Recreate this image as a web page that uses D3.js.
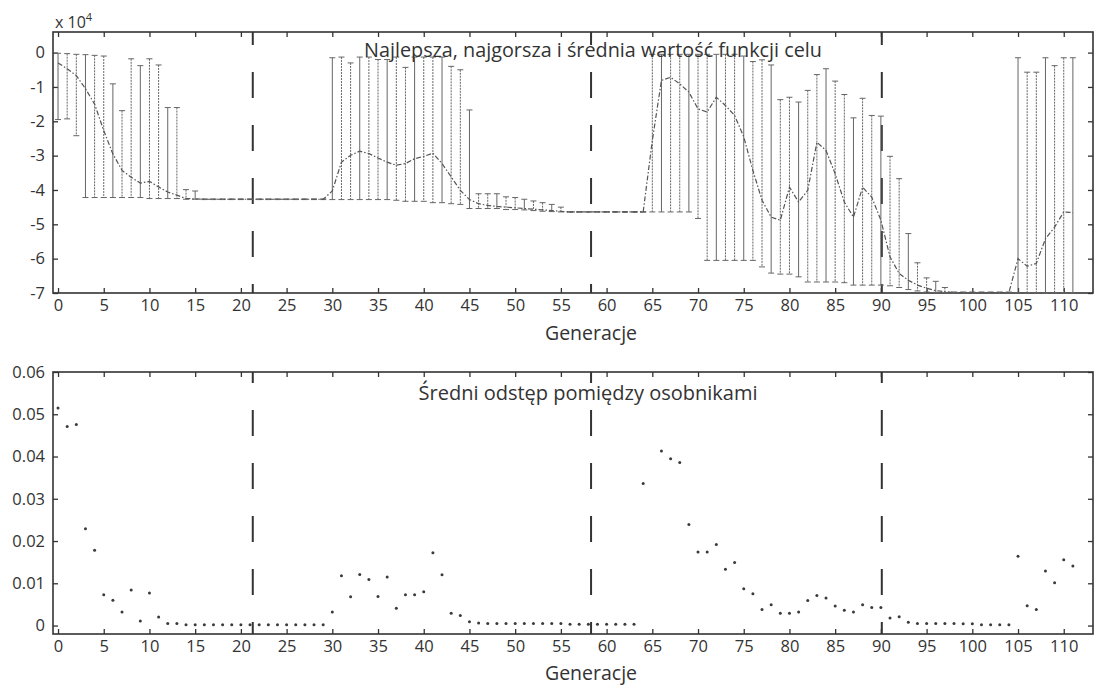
<!DOCTYPE html>
<html>
<head>
<meta charset="utf-8">
<script src="https://cdn.jsdelivr.net/npm/d3@7"></script>
<style>
  body { margin: 0; background: #fff; }
  svg text { font-family: "Open Sans", sans-serif; fill: #333; }
</style>
</head>
<body>
<svg id="chart" width="1094" height="687"></svg>
<script>
// funkcja celu (x 10^4) w kolejnych generacjach 0..111
const meanFit = [
  -0.30, -0.47, -0.67, -1.05, -1.50, -2.27, -2.95, -3.43, -3.63, -3.80,
  -3.75, -3.91, -4.06, -4.15, -4.25, -4.26, -4.27, -4.27, -4.27, -4.27,
  -4.27, -4.27, -4.27, -4.27, -4.27, -4.27, -4.27, -4.27, -4.27, -4.27,
  -4.03, -3.19, -2.99, -2.87, -2.94, -3.07, -3.19, -3.28, -3.23, -3.09,
  -3.02, -2.93, -3.23, -3.62, -4.01, -4.28, -4.40, -4.45, -4.48, -4.50,
  -4.52, -4.54, -4.56, -4.58, -4.60, -4.62, -4.64, -4.64, -4.64, -4.64,
  -4.64, -4.64, -4.64, -4.64, -4.64, -2.56, -0.81, -0.72, -0.91, -1.15,
  -1.64, -1.73, -1.30, -1.54, -1.83, -2.45, -3.43, -4.30, -4.79, -4.88,
  -3.92, -4.35, -4.01, -2.61, -2.85, -3.53, -4.35, -4.79, -3.92, -4.21,
  -4.88, -5.95, -6.43, -6.63, -6.77, -6.86, -6.93, -6.96, -6.99, -6.99,
  -6.99, -6.99, -6.99, -6.99, -6.99, -6.00, -6.22, -6.14, -5.42, -5.08,
  -4.64, -4.66
];
// najgorsza wartość (górny koniec słupka)
const worstFit = [
  -0.02, -0.03, -0.05, -0.06, -0.08, -0.10, -0.91, -1.69, -0.18, -0.38,
  -0.18, -0.36, -1.60, -1.60, -3.99, -4.03, -4.26, -4.26, -4.26, -4.26,
  -4.26, -4.26, -4.26, -4.26, -4.26, -4.26, -4.26, -4.26, -4.26, -4.26,
  -0.15, -0.13, -0.30, -0.13, -0.13, -0.20, -0.20, -0.13, -0.43, -0.13,
  -0.13, -0.13, -0.13, -0.40, -0.50, -1.67, -4.11, -4.11, -4.11, -4.20,
  -4.22, -4.27, -4.32, -4.37, -4.42, -4.50, -4.63, -4.63, -4.63, -4.63,
  -4.63, -4.63, -4.63, -4.63, -4.63, -0.05, -0.05, -0.05, -0.05, -0.05,
  -0.05, -0.05, -0.05, -0.05, -0.05, -0.10, -0.26, -0.21, -0.36, -1.37,
  -1.30, -1.44, -1.10, -0.64, -0.47, -0.83, -1.22, -1.90, -1.33, -1.83,
  -1.85, -3.02, -3.67, -5.27, -6.12, -6.56, -6.66, -6.84, -6.97, -6.97,
  -6.97, -6.97, -6.97, -6.97, -6.97, -0.15, -0.57, -0.57, -0.15, -0.38,
  -0.15, -0.15
];
// najlepsza wartość (dolny koniec słupka)
const bestFit = [
  -1.95, -1.93, -2.42, -4.22, -4.22, -4.22, -4.22, -4.22, -4.22, -4.22,
  -4.25, -4.25, -4.25, -4.25, -4.27, -4.27, -4.28, -4.28, -4.28, -4.28,
  -4.28, -4.28, -4.28, -4.28, -4.28, -4.28, -4.28, -4.28, -4.28, -4.28,
  -4.28, -4.28, -4.28, -4.28, -4.28, -4.28, -4.28, -4.30, -4.33, -4.33,
  -4.33, -4.37, -4.37, -4.40, -4.42, -4.54, -4.54, -4.54, -4.54, -4.57,
  -4.57, -4.58, -4.60, -4.62, -4.63, -4.64, -4.65, -4.65, -4.65, -4.65,
  -4.65, -4.65, -4.65, -4.65, -4.65, -4.64, -4.64, -4.64, -4.64, -4.64,
  -4.83, -6.05, -6.05, -6.05, -6.05, -6.05, -6.05, -6.24, -6.42, -6.45,
  -6.45, -6.53, -6.68, -6.68, -6.68, -6.68, -6.70, -6.77, -6.77, -6.77,
  -6.77, -6.79, -6.84, -6.90, -6.94, -6.97, -6.98, -6.99, -7.00, -7.00,
  -7.00, -7.00, -7.00, -7.00, -7.00, -7.00, -7.00, -7.00, -7.00, -7.00,
  -7.00, -7.00
];
// średni odstęp pomiędzy osobnikami (null = brak punktu)
const spread = [
  0.0515, 0.0471, 0.0476, 0.0229, 0.0178, 0.0073, 0.0060, 0.0032, 0.0084, 0.0011,
  0.0077, 0.0020, 0.0005, 0.0005, 0.0002, 0.0002, 0.0002, 0.0002, 0.0002, 0.0002,
  0.0002, 0.0002, 0.0002, 0.0002, 0.0002, 0.0002, 0.0002, 0.0002, 0.0002, 0.0002,
  0.0032, 0.0118, 0.0068, 0.0121, 0.0109, 0.0069, 0.0115, 0.0041, 0.0073, 0.0073,
  0.0080, 0.0172, 0.0120, 0.0029, 0.0024, 0.0009, 0.0006, 0.0005, 0.0005, 0.0005,
  0.0005, 0.0005, 0.0005, 0.0005, 0.0005, 0.0005, 0.0003, 0.0003, 0.0003, 0.0003,
  0.0003, 0.0003, 0.0003, 0.0003, 0.0336, null,   0.0413, 0.0395, 0.0386, 0.0239,
  0.0174, 0.0174, 0.0192, 0.0133, 0.0149, 0.0087, 0.0075, 0.0038, 0.0049, 0.0029,
  0.0029, 0.0032, 0.0059, 0.0071, 0.0065, 0.0046, 0.0036, 0.0032, 0.0049, 0.0043,
  0.0043, 0.0018, 0.0021, 0.0008, 0.0005, 0.0005, 0.0005, 0.0005, 0.0005, 0.0004,
  0.0004, 0.0002, 0.0002, 0.0002, 0.0002, 0.0164, 0.0047, 0.0038, 0.0129, 0.0101,
  0.0156, 0.0141
];
const changeGens = [21.3, 58.3, 90.1];
const genTicks = [0, 5, 10, 15, 20, 25, 30, 35, 40, 45, 50, 55, 60, 65, 70, 75, 80, 85, 90, 95, 100, 105, 110];
const fitTicks = [0, -1, -2, -3, -4, -5, -6, -7];
const spreadTicks = [0, 0.01, 0.02, 0.03, 0.04, 0.05, 0.06];

const gens = meanFit.map((d, i) => i);
const fitData = gens.map(g => ({ gen: g, mean: meanFit[g], worst: worstFit[g], best: bestFit[g] }));
const spreadData = gens.map(g => ({ gen: g, value: spread[g] })).filter(d => d.value !== null);

const svg = d3.select("#chart");
const left = 53, right = 1093;
const panelA = { y0: 32, y1: 293, dashOffset: 13 };
const panelB = { y0: 372, y1: 634, dashOffset: 15 };

const x = d3.scaleLinear().domain([-0.55, 113.2]).range([left, right]);
const yFit = d3.scaleLinear().domain([-7, 0.6]).range([panelA.y1, panelA.y0]);
const ySpread = d3.scaleLinear().domain([-0.002, 0.06]).range([panelB.y1, panelB.y0]);

function drawFrame(panel, y, yTicks, yFmt) {
  const g = svg.append("g");

  const styleAxis = sel => {
    sel.select(".domain").remove();
    sel.selectAll(".tick line").attr("stroke", "#333").attr("stroke-width", 1.3);
    sel.selectAll(".tick text").style("font-size", "16.5px").attr("fill", "#333");
  };

  g.append("g")
    .attr("transform", `translate(0,${panel.y1})`)
    .call(d3.axisBottom(x).tickValues(genTicks).tickSizeInner(-5).tickSizeOuter(0).tickPadding(6))
    .call(styleAxis);
  g.append("g")
    .attr("transform", `translate(0,${panel.y0})`)
    .call(d3.axisTop(x).tickValues(genTicks).tickSizeInner(-5).tickSizeOuter(0).tickFormat(""))
    .call(styleAxis);
  g.append("g")
    .attr("transform", `translate(${left},0)`)
    .call(d3.axisLeft(y).tickValues(yTicks).tickSizeInner(-5).tickSizeOuter(0).tickPadding(8).tickFormat(yFmt))
    .call(styleAxis);
  g.append("g")
    .attr("transform", `translate(${right},0)`)
    .call(d3.axisRight(y).tickValues(yTicks).tickSizeInner(-5).tickSizeOuter(0).tickFormat(""))
    .call(styleAxis);

  g.append("rect")
    .attr("x", left)
    .attr("y", panel.y0)
    .attr("width", right - left)
    .attr("height", panel.y1 - panel.y0)
    .attr("fill", "none")
    .attr("stroke", "#333")
    .attr("stroke-width", 1.6);

  // zmiany środowiska - pionowe linie przerywane
  g.selectAll(".change")
    .data(changeGens)
    .join("line")
    .attr("class", "change")
    .attr("x1", d => x(d))
    .attr("x2", d => x(d))
    .attr("y1", panel.y0)
    .attr("y2", panel.y1)
    .attr("stroke", "#333")
    .attr("stroke-width", 2)
    .attr("stroke-dasharray", "26,27")
    .attr("stroke-dashoffset", panel.dashOffset);
}

// --- górny wykres: najlepsza, najgorsza i średnia ---
drawFrame(panelA, yFit, fitTicks, d => String(d));

const bars = svg.append("g").attr("stroke", "#666").attr("stroke-width", 1);
const bar = bars.selectAll(".bar")
  .data(fitData)
  .join("g")
  .attr("class", "bar");
bar.append("line")
  .attr("x1", d => x(d.gen))
  .attr("x2", d => x(d.gen))
  .attr("y1", d => yFit(d.worst))
  .attr("y2", d => yFit(d.best))
  .attr("stroke-dasharray", (d, i) => i % 3 === 0 ? null : "2,1");
bar.append("line")
  .attr("x1", d => x(d.gen) - 3)
  .attr("x2", d => x(d.gen) + 3)
  .attr("y1", d => yFit(d.worst))
  .attr("y2", d => yFit(d.worst));
bar.append("line")
  .attr("x1", d => x(d.gen) - 3)
  .attr("x2", d => x(d.gen) + 3)
  .attr("y1", d => yFit(d.best))
  .attr("y2", d => yFit(d.best));

svg.append("path")
  .datum(fitData)
  .attr("fill", "none")
  .attr("stroke", "#555")
  .attr("stroke-width", 1.2)
  .attr("stroke-dasharray", "5,2,1.5,2")
  .attr("d", d3.line().x(d => x(d.gen)).y(d => yFit(d.mean)));

svg.append("text")
  .attr("x", 593)
  .attr("y", 57)
  .attr("text-anchor", "middle")
  .style("font-size", "19.8px")
  .text("Najlepsza, najgorsza i średnia wartość funkcji celu");

const mult = svg.append("text")
  .attr("x", 55)
  .attr("y", 28)
  .style("font-size", "16px");
mult.append("tspan").text("x 10");
mult.append("tspan").attr("dy", -7).style("font-size", "11px").text("4");

svg.append("text")
  .attr("x", 591)
  .attr("y", 340)
  .attr("text-anchor", "middle")
  .style("font-size", "19.5px")
  .text("Generacje");

// --- dolny wykres: średni odstęp ---
drawFrame(panelB, ySpread, spreadTicks, d => d === 0 ? "0" : d.toFixed(2));

svg.append("g")
  .selectAll("circle")
  .data(spreadData)
  .join("circle")
  .attr("cx", d => x(d.gen))
  .attr("cy", d => ySpread(d.value))
  .attr("r", 1.5)
  .attr("fill", "#3a3a3a");

svg.append("text")
  .attr("x", 588)
  .attr("y", 400)
  .attr("text-anchor", "middle")
  .style("font-size", "20px")
  .text("Średni odstęp pomiędzy osobnikami");

svg.append("text")
  .attr("x", 591)
  .attr("y", 680)
  .attr("text-anchor", "middle")
  .style("font-size", "19.5px")
  .text("Generacje");
</script>
</body>
</html>
